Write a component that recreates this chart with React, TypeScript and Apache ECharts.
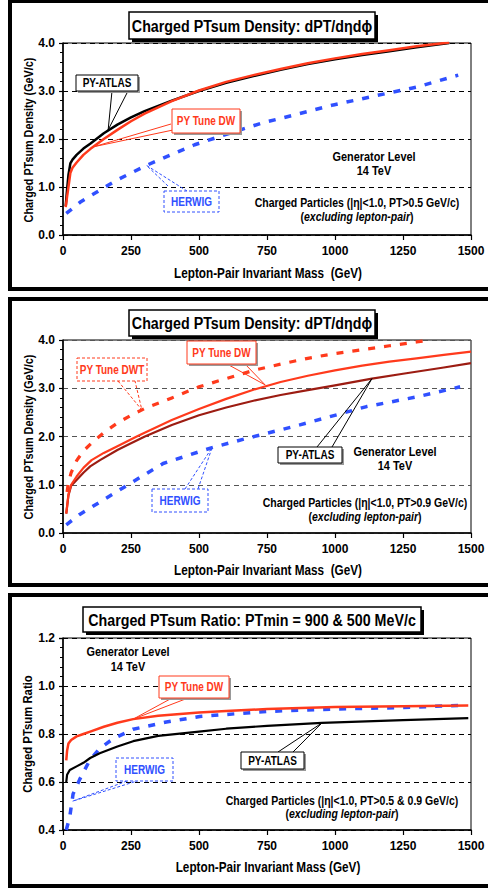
import React, { useEffect, useRef } from "react";
import * as echarts from "echarts";

const FONT = "'Liberation Sans',Arial,sans-serif";
const SX = 0.84; // horizontal squeeze to mimic the condensed look of the original

// ---------- axis ticks ----------
const xTicks = [0, 250, 500, 750, 1000, 1250, 1500];
const yTicksDensity = [0, 1, 2, 3, 4];
const yTicksRatio = [0.4, 0.6, 0.8, 1.0, 1.2];

// ---------- panel 1: density, PT>0.5 ----------
const p1AtlasX = [10, 15, 20, 27, 35, 50, 75, 100, 150, 200, 250, 300, 400, 500, 600, 700, 800, 900, 1000, 1100, 1200, 1300, 1420];
const p1Atlas = [0.6, 0.95, 1.25, 1.49, 1.57, 1.67, 1.8, 1.9, 2.12, 2.3, 2.45, 2.58, 2.8, 3.0, 3.17, 3.31, 3.44, 3.56, 3.66, 3.75, 3.83, 3.91, 4.0];
const p1DwX = [10, 15, 20, 27, 35, 50, 75, 100, 150, 200, 250, 300, 400, 500, 600, 700, 800, 900, 1000, 1100, 1200, 1300, 1420];
const p1DW = [0.58, 0.8, 1.0, 1.29, 1.4, 1.51, 1.67, 1.79, 2.0, 2.19, 2.37, 2.53, 2.79, 3.01, 3.19, 3.33, 3.46, 3.58, 3.68, 3.77, 3.85, 3.93, 4.01];
const p1HerwigX = [12, 67, 123, 200, 307, 400, 484, 613, 736, 850, 994, 1100, 1190, 1300, 1453];
const p1Herwig = [0.45, 0.7, 0.89, 1.15, 1.45, 1.68, 1.88, 2.12, 2.34, 2.5, 2.71, 2.84, 2.95, 3.08, 3.33];

// ---------- panel 2: density, PT>0.9 ----------
const p2DwtX = [15, 20, 30, 50, 75, 110, 150, 200, 250, 300, 400, 500, 600, 700, 800, 900, 1000, 1100, 1200, 1300, 1350];
const p2Dwt = [0.85, 1.05, 1.25, 1.5, 1.7, 1.89, 2.08, 2.28, 2.44, 2.58, 2.8, 3.03, 3.2, 3.37, 3.5, 3.62, 3.72, 3.8, 3.88, 3.96, 4.0];
const p2DwX = [12, 20, 30, 50, 75, 105, 150, 200, 271, 300, 400, 500, 600, 700, 800, 900, 1000, 1100, 1200, 1300, 1400, 1500];
const p2DW = [0.4, 0.8, 1.0, 1.17, 1.35, 1.51, 1.66, 1.8, 2.0, 2.08, 2.34, 2.57, 2.78, 2.97, 3.13, 3.26, 3.37, 3.47, 3.55, 3.62, 3.69, 3.76];
const p2AtlasX = [12, 20, 30, 50, 75, 100, 136, 200, 250, 301, 400, 500, 600, 700, 800, 900, 1000, 1136, 1250, 1400, 1500];
const p2Atlas = [0.4, 0.78, 0.98, 1.1, 1.25, 1.38, 1.51, 1.72, 1.86, 2.0, 2.24, 2.44, 2.6, 2.74, 2.86, 2.96, 3.06, 3.2, 3.3, 3.43, 3.52];
const p2HerwigX = [12, 60, 135, 245, 368, 548, 675, 871, 1116, 1300, 1460];
const p2Herwig = [0.17, 0.38, 0.64, 1.02, 1.44, 1.77, 1.96, 2.24, 2.62, 2.82, 3.03];

// ---------- panel 3: ratio ----------
const p3DwX = [12, 15, 20, 30, 50, 75, 100, 150, 200, 258, 350, 500, 600, 750, 1000, 1250, 1490];
const p3DW = [0.69, 0.73, 0.76, 0.775, 0.79, 0.8, 0.81, 0.83, 0.847, 0.862, 0.876, 0.89, 0.896, 0.904, 0.912, 0.916, 0.919];
const p3AtlasX = [12, 15, 25, 50, 75, 100, 135, 200, 258, 350, 500, 600, 750, 952, 1250, 1490];
const p3Atlas = [0.6, 0.63, 0.65, 0.665, 0.68, 0.7, 0.72, 0.748, 0.77, 0.792, 0.81, 0.822, 0.834, 0.846, 0.858, 0.866];
const p3HerwigX = [12, 25, 37, 61, 98, 135, 184, 258, 380, 503, 748, 994, 1239, 1484];
const p3Herwig = [0.4, 0.456, 0.55, 0.61, 0.69, 0.74, 0.78, 0.82, 0.85, 0.873, 0.894, 0.904, 0.91, 0.92];

const RED = "#ff3a1c";
const BLUE = "#3050ff";
const DARKRED = "#9c1c12";

const zip = (xs: number[], ys: number[]) => xs.map((x, i) => [x, ys[i]]);

function lineSeries(gi: number, name: string, xs: number[], ys: number[], color: string, width: number, dashed: boolean) {
  return {
    type: "line",
    name,
    xAxisIndex: gi,
    yAxisIndex: gi,
    data: zip(xs, ys),
    showSymbol: false,
    smooth: false,
    lineStyle: { color, width, type: dashed ? [7, 9] : "solid", cap: "butt", join: "round" },
    z: dashed ? 3 : 4,
  };
}

const grids = [
  { left: 63, top: 43, width: 408, height: 192 },
  { left: 63, top: 340, width: 408, height: 193 },
  { left: 63, top: 638, width: 408, height: 192 },
];

function xAxisCfg(gi: number) {
  return {
    type: "value",
    gridIndex: gi,
    min: xTicks[0],
    max: xTicks[xTicks.length - 1],
    interval: xTicks[1] - xTicks[0],
    axisLine: { lineStyle: { color: "#000", width: 1.5 } },
    axisTick: { show: true, length: 5, lineStyle: { color: "#000", width: 1.2 } },
    axisLabel: {
      fontFamily: FONT, fontWeight: "bold", fontSize: 12, color: "#000", margin: 10,
      formatter: (v: number) => String(v),
    },
    splitLine: { show: false },
  };
}

function yAxisCfg(gi: number, ticks: number[], gridColor: string) {
  return {
    type: "value",
    gridIndex: gi,
    min: ticks[0],
    max: ticks[ticks.length - 1],
    interval: ticks[1] - ticks[0],
    axisLine: { show: true, lineStyle: { color: "#000", width: 1.5 } },
    axisTick: { show: true, length: 4, lineStyle: { color: "#000", width: 1.2 } },
    minorTick: { show: true, splitNumber: 5, length: 3, lineStyle: { color: "#000", width: 1 } },
    axisLabel: {
      fontFamily: FONT, fontWeight: "bold", fontSize: 12, color: "#000", margin: 8,
      formatter: (v: number) => v.toFixed(1),
    },
    splitLine: { show: true, lineStyle: { color: gridColor, type: [5, 4], width: 1 } },
  };
}

export default function App() {
  const ref = useRef<HTMLDivElement>(null);
  useEffect(() => {
    if (!ref.current) return;
    const chart = echarts.init(ref.current, null, { renderer: "svg" });
    chart.setOption({
      animation: false,
      backgroundColor: "#fff",
      grid: grids.map((g) => ({ ...g, show: true, borderColor: "#000", borderWidth: 1, backgroundColor: "transparent" })),
      xAxis: [xAxisCfg(0), xAxisCfg(1), xAxisCfg(2)],
      yAxis: [
        yAxisCfg(0, yTicksDensity, "#000"),
        yAxisCfg(1, yTicksDensity, "#555"),
        yAxisCfg(2, yTicksRatio, "#000"),
      ],
      series: [
        lineSeries(0, "HERWIG", p1HerwigX, p1Herwig, BLUE, 3.5, true),
        lineSeries(0, "PY-ATLAS", p1AtlasX, p1Atlas, "#000", 2.5, false),
        lineSeries(0, "PY Tune DW", p1DwX, p1DW, RED, 2.5, false),
        lineSeries(1, "HERWIG", p2HerwigX, p2Herwig, BLUE, 3.5, true),
        lineSeries(1, "PY Tune DWT", p2DwtX, p2Dwt, RED, 3.2, true),
        lineSeries(1, "PY-ATLAS", p2AtlasX, p2Atlas, DARKRED, 2.2, false),
        lineSeries(1, "PY Tune DW", p2DwX, p2DW, RED, 2.2, false),
        lineSeries(2, "HERWIG", p3HerwigX, p3Herwig, BLUE, 3.5, true),
        lineSeries(2, "PY-ATLAS", p3AtlasX, p3Atlas, "#000", 2.2, false),
        lineSeries(2, "PY Tune DW", p3DwX, p3DW, RED, 2.5, false),
      ],
    });

    const px = (gi: number, p: number[]) => chart.convertToPixel({ gridIndex: gi } as any, p) as number[];

    const els: any[] = [];
    // outer frames
    const frames = [
      [10, 1, 492, 288],
      [10, 299, 492, 286],
      [10, 595, 492, 291],
    ];
    frames.forEach(([x, y, w, h]) =>
      els.push({ type: "rect", z: 200, shape: { x, y, width: w, height: h }, style: { fill: "none", stroke: "#000", lineWidth: 4 } })
    );

    const txt = (x: number, y: number, text: string, size: number, color = "#000", extra: any = {}, rot = 0, sx = SX) =>
      els.push({
        type: "text", z: 170, x, y, scaleX: sx, rotation: rot,
        style: { text, fontFamily: FONT, fontWeight: "bold", fontSize: size, fill: color, align: "center", verticalAlign: "middle", ...extra },
      });

    const titleBox = (x: number, y: number, w: number, h: number, text: string) => {
      els.push({ type: "rect", z: 150, shape: { x: x + 3, y: y + 3, width: w, height: h }, style: { fill: "#000" } });
      els.push({ type: "rect", z: 151, shape: { x, y, width: w, height: h }, style: { fill: "#fff", stroke: "#000", lineWidth: 1.5 } });
      txt(x + w / 2, y + h / 2 + 0.5, text, 17);
    };

    const note = (
      gi: number, box: number[], text: string, color: string, dashed: boolean,
      e1: number[], e2: number[], tip: number[]
    ) => {
      const [x, y, w, h] = box;
      const t = px(gi, tip);
      els.push({
        type: "polyline", z: 160,
        shape: { points: [e1, t, e2] },
        style: { fill: "none", stroke: color, lineWidth: 1, lineDash: dashed ? [3, 2] : null },
      });
      if (!dashed) {
        els.push({ type: "rect", z: 160, shape: { x: x + 2, y: y + 2, width: w, height: h }, style: { fill: "#999" } });
      }
      els.push({
        type: "rect", z: 161, shape: { x, y, width: w, height: h },
        style: { fill: "#fff", stroke: color, lineWidth: 1, lineDash: dashed ? [3, 2] : null },
      });
      txt(x + w / 2, y + h / 2, text, 12.5, color, {}, 0, 0.8);
    };

    const excl = (x: number, y: number) =>
      els.push({
        type: "text", z: 170, x, y, scaleX: SX,
        style: {
          text: "{n|(}{i|excluding lepton-pair}{n|)}",
          align: "center", verticalAlign: "middle",
          rich: {
            n: { fontFamily: FONT, fontWeight: "bold", fontSize: 12.5, fill: "#000" },
            i: { fontFamily: FONT, fontWeight: "bold", fontStyle: "italic", fontSize: 12.5, fill: "#000" },
          },
        },
      });

    const R = Math.PI / 2;
    // axis names
    txt(268, 273, "Lepton-Pair Invariant Mass  (GeV)", 14);
    txt(268, 570, "Lepton-Pair Invariant Mass  (GeV)", 14);
    txt(268, 867, "Lepton-Pair Invariant Mass (GeV)", 14);
    txt(29, 140, "Charged PTsum Density (GeV/c)", 13.5, "#000", {}, R, 0.8);
    txt(29, 437, "Charged PTsum Density (GeV/c)", 13.5, "#000", {}, R, 0.8);
    txt(28, 734, "Charged PTsum Ratio", 13.5, "#000", {}, R, 0.84);

    // panel 1
    titleBox(129, 12, 246, 27, "Charged PTsum Density: dPT/dηdϕ");
    note(0, [76, 75, 62, 16], "PY-ATLAS", "#000", false, [112, 91], [128, 91], [166, 2.19]);
    note(0, [172, 109, 68, 24], "PY Tune DW", RED, false, [171, 124], [173, 130], [114, 1.84]);
    note(0, [164, 191, 55, 21], "HERWIG", BLUE, true, [168, 186], [187, 191], [307, 1.45]);
    txt(374, 157, "Generator Level", 13);
    txt(374, 171, "14 TeV", 13);
    txt(357, 203, "Charged Particles (|η|<1.0, PT>0.5 GeV/c)", 12.5);
    excl(357, 217);

    // panel 2
    titleBox(129, 310, 246, 26, "Charged PTsum Density: dPT/dηdϕ");
    note(1, [77, 358, 70, 23], "PY Tune DWT", RED, true, [118, 381], [135, 381], [290, 2.55]);
    note(1, [187, 341, 69, 23], "PY Tune DW", RED, false, [227, 364], [245, 364], [743, 3.07]);
    note(1, [278, 447, 64, 16], "PY-ATLAS", "#000", false, [317, 447], [332, 447], [1136, 3.2]);
    note(1, [152, 489, 56, 23], "HERWIG", BLUE, true, [185, 489], [198, 489], [548, 1.77]);
    txt(395, 452, "Generator Level", 13);
    txt(395, 466, "14 TeV", 13);
    txt(365, 503, "Charged Particles (|η|<1.0, PT>0.9 GeV/c)", 12.5);
    excl(365, 517);

    // panel 3
    titleBox(83, 607, 338, 25, "Charged PTsum Ratio: PTmin = 900 & 500 MeV/c");
    txt(128, 652, "Generator Level", 13);
    txt(128, 667, "14 TeV", 13);
    note(2, [159, 676, 70, 22], "PY Tune DW", RED, false, [172, 698], [188, 698], [258, 0.862]);
    note(2, [241, 752, 63, 17], "PY-ATLAS", "#000", false, [278, 752], [293, 752], [952, 0.846]);
    note(2, [116, 758, 57, 23], "HERWIG", BLUE, true, [127, 781], [137, 781], [35, 0.52]);
    txt(342, 801, "Charged Particles (|η|<1.0, PT>0.5 & 0.9 GeV/c)", 12.5);
    excl(342, 814);

    chart.setOption({ graphic: { elements: els } });
    return () => chart.dispose();
  }, []);
  return <div ref={ref} style={{ position: "absolute", left: 0, top: 0, width: 488, height: 888 }} />;
}
